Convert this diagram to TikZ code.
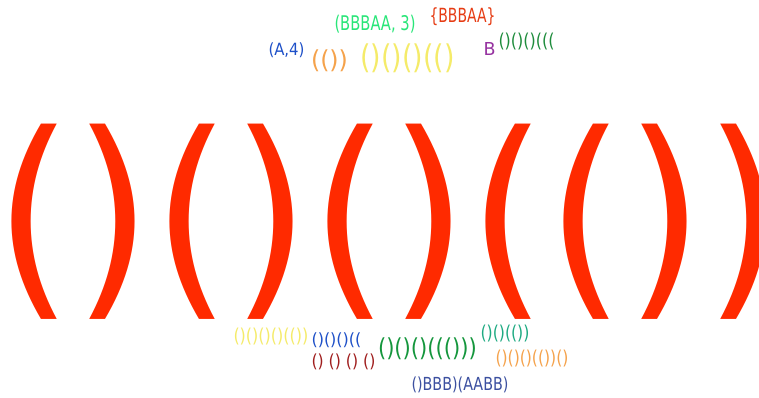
\documentclass[tikz,border=0pt]{standalone}
\usepackage{fontspec}
\setsansfont{DejaVu Sans}
\usepackage{graphicx}

\definecolor{bigred}{RGB}{255,42,0}
\definecolor{springgreen}{RGB}{40,230,120}
\definecolor{brickred}{RGB}{230,60,20}
\definecolor{royalblue}{RGB}{30,80,200}
\definecolor{softorange}{RGB}{245,162,75}
\definecolor{paleyellow}{RGB}{245,235,105}
\definecolor{plum}{RGB}{150,50,160}
\definecolor{forestgreen}{RGB}{30,140,60}
\definecolor{darkred}{RGB}{160,30,30}
\definecolor{leafgreen}{RGB}{20,150,60}
\definecolor{teal}{RGB}{30,170,130}
\definecolor{slateblue}{RGB}{60,80,160}

% squeeze a word into its box: width, total height, text
\newcommand{\fitword}[3]{\resizebox*{#1pt}{#2pt}{#3}}

\tikzset{word/.style={inner sep=0pt,outer sep=0pt,font=\sffamily}}

\begin{document}
\begin{tikzpicture}[x=1pt,y=-1pt]
\fill[white] (0,0) rectangle (759,398);
\useasboundingbox (0,0) rectangle (759,398);
% the big one, cut at the right edge
\node[word,anchor=west,text=bigred] (big) at (-5.4,221.5) {\fitword{789}{195}{()()()(())}};
% top words
\node[word,text=royalblue] (atop) at (286.5,50.5) {\fitword{36}{15}{(A,4)}};
\node[word,text=softorange] (otop) at (329.5,61) {\fitword{37}{22}{(())}};
\node[word,text=paleyellow] (ytop) at (407.5,58.5) {\fitword{94}{29}{()()()(()}};
\node[word,text=springgreen] (gtop) at (375,24) {\fitword{81}{18}{(BBBAA, 3)}};
\node[word,text=brickred] (rtop) at (462.5,17) {\fitword{66}{18}{\{BBBAA\}}};
\node[word,text=plum] (btop) at (489.5,49.5) {\fitword{12}{13}{B}};
\node[word,text=forestgreen] (ftop) at (526.5,41.5) {\fitword{56}{17}{()()()(((}};
% bottom words
\node[word,text=paleyellow] (ybot) at (271,336.5) {\fitword{75}{17}{()()()()(())}};
\node[word,text=royalblue] (bbot) at (336.5,340.5) {\fitword{50}{15}{()()()((}};
\node[word,text=darkred] (dbot) at (343.5,362) {\fitword{64}{16}{() () () ()}};
\node[word,text=leafgreen] (gbot) at (427.5,349) {\fitword{99}{22}{()()()((()))}};
\node[word,text=teal] (tbot) at (505,333.5) {\fitword{49}{17}{()()(())}};
\node[word,text=softorange] (obot) at (532,358.5) {\fitword{73}{17}{()()()(())()}};
\node[word,text=slateblue] (sbot) at (460,385) {\fitword{97}{16}{()BBB)(AABB)}};
\end{tikzpicture}
\end{document}
